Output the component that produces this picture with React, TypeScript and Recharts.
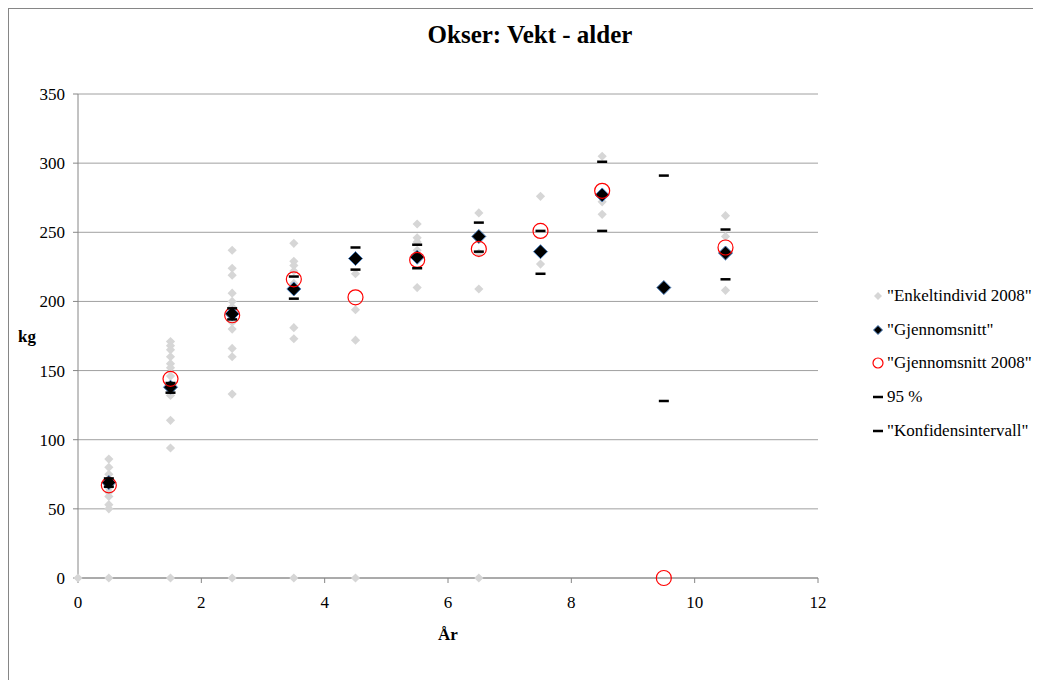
import { ScatterChart, Scatter, XAxis, YAxis, CartesianGrid, Legend, Label } from 'recharts';

// age groups (years) for the summary series
const ages = [0.5, 1.5, 2.5, 3.5, 4.5, 5.5, 6.5, 7.5, 8.5, 9.5, 10.5];
const meanAll = [69, 138, 191, 209, 231, 232, 247, 236, 277, 210, 235];
const mean2008 = [67, 144, 190, 216, 203, 230, 238, 251, 280, 0, 239];
const ciUpper = [72, 141, 195, 218, 239, 241, 257, 251, 301, 291, 252];
const ciLower = [66, 134, 187, 202, 223, 224, 236, 220, 251, 128, 216];

// single animals 2008, grouped by age
const individualAges = [0, 0.5, 1.5, 2.5, 3.5, 4.5, 5.5, 6.5, 7.5, 8.5, 10.5];
const individuals2008 = [
  [0],
  [86, 80, 75, 71, 65, 62, 59, 53, 50, 0],
  [171, 168, 165, 160, 155, 152, 146, 140, 132, 114, 94, 0],
  [237, 224, 219, 206, 200, 196, 185, 180, 166, 160, 133, 0],
  [242, 229, 226, 222, 213, 181, 173, 0],
  [220, 194, 172, 0],
  [256, 246, 243, 237, 210],
  [264, 235, 209, 0],
  [276, 227],
  [305, 272, 263],
  [262, 247, 208],
];

const xTicks = [0, 2, 4, 6, 8, 10, 12];
const yTicks = [0, 50, 100, 150, 200, 250, 300, 350];

const FONT = '"Liberation Serif", "Times New Roman", serif';

const toPoints = (ys: number[]) => ages.map((x, i) => ({ x, y: ys[i] }));
const individualPoints = individualAges.flatMap((x, i) => individuals2008[i].map((y) => ({ x, y })));

const diamondPath = (cx: number, cy: number, r: number) =>
  `M${cx},${cy - r} L${cx + r},${cy} L${cx},${cy + r} L${cx - r},${cy} Z`;

const GreyDiamond = (props: any) => <path d={diamondPath(props.cx, props.cy, 4.6)} fill="#d6d6d6" />;
const BlackDiamond = (props: any) => (
  <path d={diamondPath(props.cx, props.cy, 7)} fill="#000" stroke="#4a7ebb" strokeWidth={1} />
);
const RedCircle = (props: any) => (
  <circle cx={props.cx} cy={props.cy} r={7.5} fill="none" stroke="#ff0000" strokeWidth={1.2} />
);
const Dash = (props: any) => <rect x={props.cx - 5} y={props.cy - 1.25} width={10} height={2.5} fill="#000" />;

const legendItems = [
  { label: '"Enkeltindivid 2008"', kind: 'grey' },
  { label: '"Gjennomsnitt"', kind: 'black' },
  { label: '"Gjennomsnitt 2008"', kind: 'red' },
  { label: '95 %', kind: 'dash' },
  { label: '"Konfidensintervall"', kind: 'dash' },
];

function LegendMarker({ kind }: { kind: string }) {
  if (kind === 'grey') return <path d={diamondPath(7, 7, 4)} fill="#d6d6d6" />;
  if (kind === 'black') return <path d={diamondPath(7, 7, 4.5)} fill="#000" stroke="#4a7ebb" strokeWidth={1} />;
  if (kind === 'red') return <circle cx={7} cy={7} r={5} fill="none" stroke="#ff0000" strokeWidth={1.2} />;
  return <rect x={2} y={5.75} width={10} height={2.5} fill="#000" />;
}

const renderLegend = () => (
  <div style={{ fontFamily: FONT, fontSize: 17, color: '#000' }}>
    {legendItems.map((item) => (
      <div key={item.label} style={{ display: 'flex', alignItems: 'center', height: 33.8 }}>
        <svg width={14} height={14}>
          <LegendMarker kind={item.kind} />
        </svg>
        <span style={{ marginLeft: 2, whiteSpace: 'nowrap' }}>{item.label}</span>
      </div>
    ))}
  </div>
);

const tickStyle = { fill: '#000', fontSize: 17, fontFamily: 'Liberation Serif' };
const axisLabelStyle = { fontSize: 17, fontWeight: 'bold', fill: '#000', fontFamily: 'Liberation Serif' };

export default function App() {
  return (
    <div
      style={{
        position: 'relative',
        width: 1032,
        height: 671,
        borderLeft: '1px solid #868686',
        borderTop: '1px solid #868686',
        background: '#fff',
        fontFamily: FONT,
      }}
    >
      <style>{`html, body { overflow: hidden; } .recharts-wrapper svg text, .recharts-wrapper svg tspan { font-family: ${FONT} !important; }`}</style>
      <div
        style={{
          position: 'absolute',
          left: 321,
          top: 14,
          width: 400,
          textAlign: 'center',
          fontSize: 25,
          fontWeight: 'bold',
          lineHeight: '24px',
          color: '#000',
        }}
      >
        Okser: Vekt - alder
      </div>
      <ScatterChart
        width={1032}
        height={671}
        margin={{ top: 85, right: 223, bottom: 62, left: 9 }}
        style={{ fontFamily: FONT }}
      >
        <CartesianGrid vertical={false} stroke="#a0a0a0" />
        <XAxis
          type="number"
          dataKey="x"
          domain={[0, 12]}
          ticks={xTicks}
          interval={0}
          height={40}
          tickSize={5}
          tickMargin={13}
          stroke="#868686"
          tick={tickStyle}
        >
          <Label value="År" position="bottom" offset={10} style={axisLabelStyle} />
        </XAxis>
        <YAxis
          type="number"
          dataKey="y"
          domain={[0, 350]}
          ticks={yTicks}
          interval={0}
          width={60}
          tickSize={5}
          tickMargin={8}
          stroke="#868686"
          tick={tickStyle}
        >
          <Label value="kg" position="insideLeft" offset={0} style={axisLabelStyle} />
        </YAxis>
        <Legend
          layout="horizontal"
          align="center"
          verticalAlign="middle"
          content={renderLegend}
          wrapperStyle={{ left: 862, top: 270, width: 170, height: 170 }}
        />
        <Scatter name='"Enkeltindivid 2008"' data={individualPoints} shape={GreyDiamond} isAnimationActive={false} />
        <Scatter name='"Gjennomsnitt"' data={toPoints(meanAll)} shape={BlackDiamond} isAnimationActive={false} />
        <Scatter name='"Gjennomsnitt 2008"' data={toPoints(mean2008)} shape={RedCircle} isAnimationActive={false} />
        <Scatter name="95 %" data={toPoints(ciUpper)} shape={Dash} isAnimationActive={false} />
        <Scatter name='"Konfidensintervall"' data={toPoints(ciLower)} shape={Dash} isAnimationActive={false} />
      </ScatterChart>
    </div>
  );
}
